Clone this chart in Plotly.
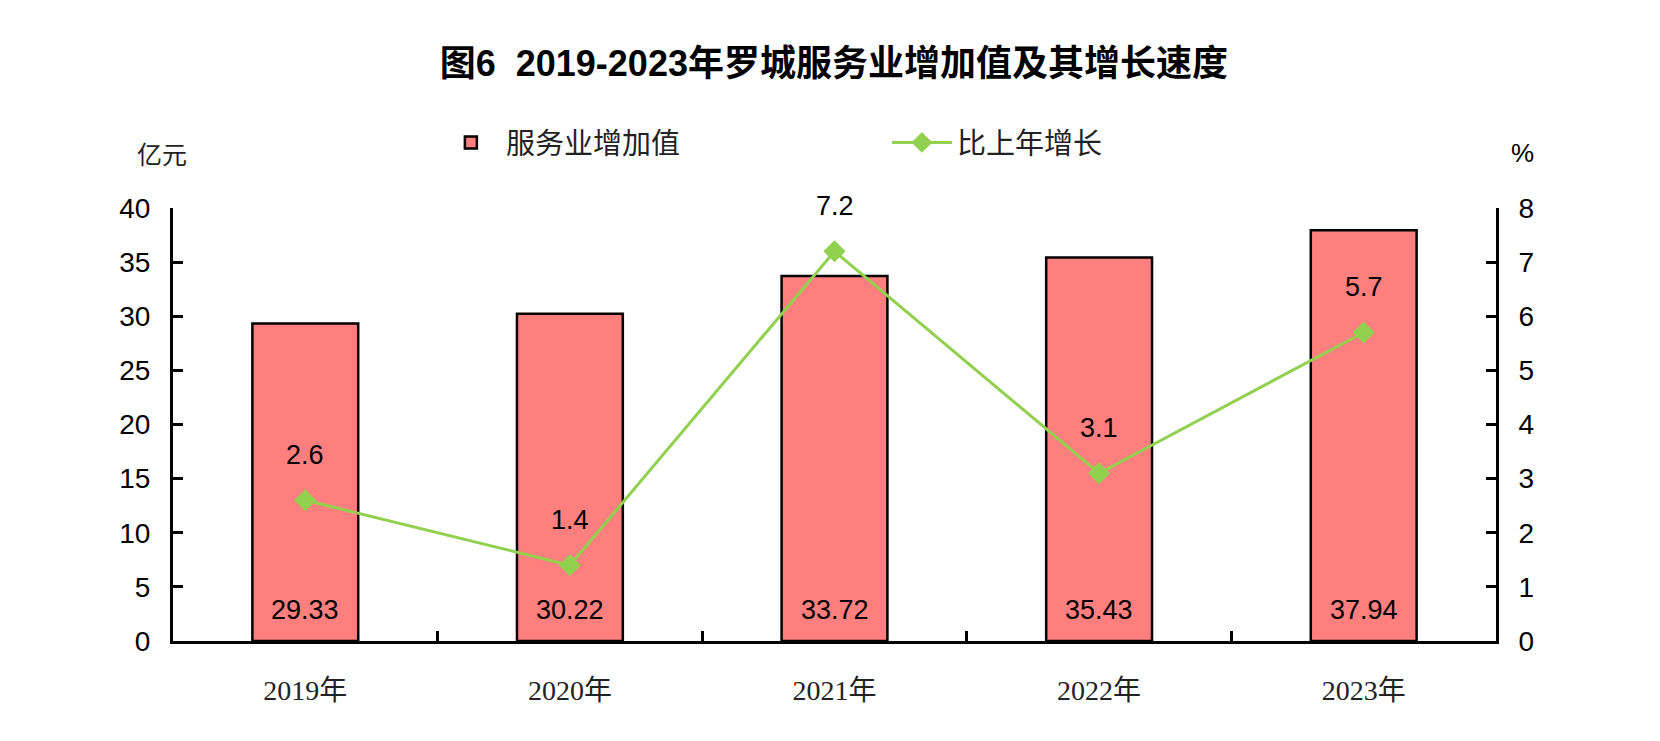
import plotly.graph_objects as go

# chart data
years = ["2019年", "2020年", "2021年", "2022年", "2023年"]
value_added = [29.33, 30.22, 33.72, 35.43, 37.94]   # 亿元
growth = [2.6, 1.4, 7.2, 3.1, 5.7]                  # %

BAR_COLOR = "#FF7F7F"
LINE_COLOR = "#92D050"
SANS = "Liberation Sans, Arial, Noto Sans CJK SC"
SERIF = "Liberation Serif, Times New Roman, Noto Sans CJK SC"
CJK = "Noto Sans CJK SC"

fig = go.Figure()

fig.add_trace(go.Bar(
    x=years, y=value_added,
    name="服务业增加值",
    width=0.4,
    marker=dict(color=BAR_COLOR, line=dict(color="black", width=2.5)),
    yaxis="y",
))

fig.add_trace(go.Scatter(
    x=years, y=growth,
    name="比上年增长",
    mode="lines+markers",
    line=dict(color=LINE_COLOR, width=3),
    marker=dict(symbol="diamond", size=17, color=LINE_COLOR),
    yaxis="y2",
))

# bar value labels near the bottom of each bar
for yr, v in zip(years, value_added):
    fig.add_annotation(x=yr, y=0, yref="y", text=f"{v:.2f}", showarrow=False,
                       yshift=31, font=dict(family=SANS, size=27, color="black"))

# growth labels above each marker
for yr, g in zip(years, growth):
    fig.add_annotation(x=yr, y=g, yref="y2", text=f"{g:.1f}", showarrow=False,
                       yshift=45, font=dict(family=SANS, size=27, color="black"))

# axis unit labels
fig.add_annotation(x=-0.0083, y=1.127, xref="paper", yref="paper", text="亿元",
                   xanchor="center", yanchor="middle", showarrow=False,
                   font=dict(family=CJK, size=25, color="#222222"))
fig.add_annotation(x=1.020, y=1.127, xref="paper", yref="paper", text="%",
                   xanchor="center", yanchor="middle", showarrow=False,
                   font=dict(family=SANS, size=26, color="black"))

axis_common = dict(
    showline=True, linecolor="black", linewidth=3,
    ticks="inside", ticklen=10, tickwidth=2.5, tickcolor="black",
    showgrid=False, zeroline=False,
)

fig.update_layout(
    width=1660, height=741,
    margin=dict(l=165, r=172, t=200, b=108),
    paper_bgcolor="white", plot_bgcolor="white",
    title=dict(text="<b>图6  2019-2023年罗城服务业增加值及其增长速度</b>",
               x=0.4975, xanchor="center", y=0.925, yanchor="middle",
               font=dict(family="Liberation Sans, Noto Sans CJK SC", size=36, color="black")),
    showlegend=True,
    legend=dict(orientation="h", x=0.1987, xanchor="left", y=1.151, yanchor="middle",
                font=dict(family=CJK, size=29, color="#222222"),
                entrywidth=376, entrywidthmode="pixels", itemwidth=60,
                bgcolor="rgba(0,0,0,0)"),
    xaxis=dict(
        **axis_common, tickson="boundaries", ticklabelstandoff=22,
        tickfont=dict(family=SERIF, size=28, color="#222222"),
    ),
    yaxis=dict(
        **axis_common, range=[0, 40], dtick=5, ticklabelstandoff=14,
        tickfont=dict(family=SANS, size=28, color="black"),
    ),
    yaxis2=dict(
        **axis_common, range=[0, 8], dtick=1, overlaying="y", side="right",
        ticklabelstandoff=14,
        tickfont=dict(family=SANS, size=28, color="black"),
    ),
)

fig.write_html("out.html")
